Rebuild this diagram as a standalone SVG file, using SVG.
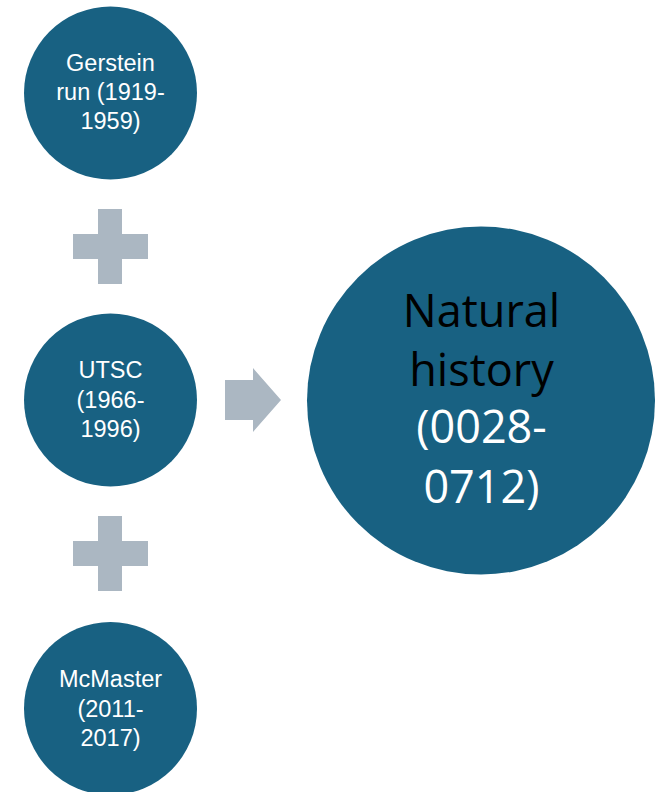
<svg xmlns="http://www.w3.org/2000/svg" width="667" height="792" viewBox="0 0 667 792">
<style>
.c{fill:#186182}
.s{fill:#ffffff;font-family:"Liberation Sans",Arial,sans-serif;font-size:23.5px;text-anchor:middle}
.b{font-family:"Open Sans","Noto Sans",sans-serif;font-size:45px;text-anchor:middle}
.g{fill:#abb7c2}
</style>
<rect width="667" height="792" fill="#ffffff"/>
<g id="connectors">
<polygon class="g" points="98,209 122,209 122,234 148,234 148,259 122,259 122,284 98,284 98,259 73,259 73,234 98,234"/>
<polygon class="g" points="98,516 122,516 122,541 148,541 148,566 122,566 122,591 98,591 98,566 73,566 73,541 98,541"/>
<polygon class="g" points="225,380 253,380 253,368 281,400 253,432 253,420 225,420"/>
</g>
<g id="gerstein">
<circle class="c" cx="110.5" cy="93" r="86.5"/>
<text class="s" x="110.5" y="71">Gerstein</text>
<text class="s" x="110.5" y="100">run (1919-</text>
<text class="s" x="110.5" y="129">1959)</text>
</g>
<g id="utsc">
<circle class="c" cx="110.5" cy="400" r="86.5"/>
<text class="s" x="110.5" y="378">UTSC</text>
<text class="s" x="110.5" y="408">(1966-</text>
<text class="s" x="110.5" y="437">1996)</text>
</g>
<g id="mcmaster">
<circle class="c" cx="110.5" cy="708.5" r="86.5"/>
<text class="s" x="110.5" y="687">McMaster</text>
<text class="s" x="110.5" y="717">(2011-</text>
<text class="s" x="110.5" y="746">2017)</text>
</g>
<g id="natural-history">
<circle class="c" cx="481" cy="400.5" r="174"/>
<text class="b" x="481.5" y="327" fill="#000000">Natural</text>
<text class="b" x="481.5" y="386" fill="#000000">history</text>
<text class="b" x="481.5" y="443" fill="#ffffff">(0028-</text>
<text class="b" x="481.5" y="503" fill="#ffffff">0712)</text>
</g>
</svg>
